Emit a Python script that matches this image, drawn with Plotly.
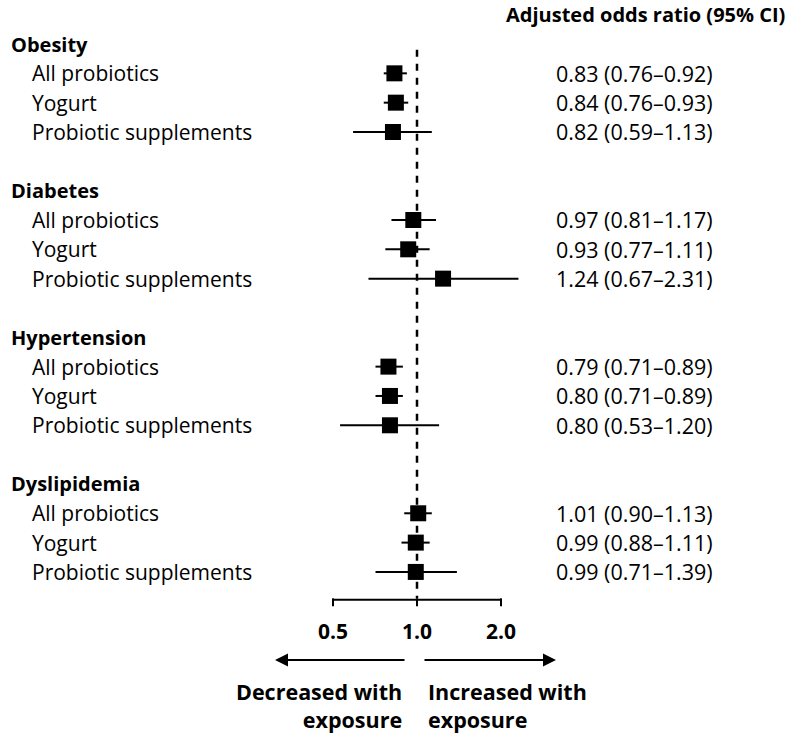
import math
import plotly.graph_objects as go

groups = ["Obesity", "Diabetes", "Hypertension", "Dyslipidemia"]
exposures = ["All probiotics", "Yogurt", "Probiotic supplements"]
odds = [0.83, 0.84, 0.82, 0.97, 0.93, 1.24, 0.79, 0.80, 0.80, 1.01, 0.99, 0.99]
lower = [0.76, 0.76, 0.59, 0.81, 0.77, 0.67, 0.71, 0.71, 0.53, 0.90, 0.88, 0.71]
upper = [0.92, 0.93, 1.13, 1.17, 1.11, 2.31, 0.89, 0.89, 1.20, 1.13, 1.11, 1.39]
tick_vals = [0.5, 1.0, 2.0]
tick_text = ["0.5", "1.0", "2.0"]

W, H = 794, 737
FONT = "Open Sans"

# row positions
rows_head, rows_item = [], []
for g in range(len(groups)):
    base = g * 5
    rows_head.append(base)
    for k in range(len(exposures)):
        rows_item.append(base + 1 + k)

fig = go.Figure()

# reference dashed line at 1.0
fig.add_trace(go.Scatter(x=[1.0, 1.0], y=[0.2, 18.9], mode="lines",
                         line=dict(color="black", width=2.5, dash="7px,7px"),
                         hoverinfo="skip", showlegend=False))

# CI lines + squares
fig.add_trace(go.Scatter(
    x=odds, y=rows_item, mode="markers",
    marker=dict(symbol="square", size=16, color="black"),
    error_x=dict(type="data", symmetric=False,
                 array=[u - o for u, o in zip(upper, odds)],
                 arrayminus=[o - l for o, l in zip(odds, lower)],
                 color="black", thickness=2, width=0),
    showlegend=False))

# bottom axis line and ticks
fig.add_trace(go.Scatter(x=[tick_vals[0], tick_vals[-1]], y=[18.95, 18.95], mode="lines",
                         line=dict(color="black", width=2), showlegend=False, hoverinfo="skip"))
for tv in tick_vals:
    fig.add_trace(go.Scatter(x=[tv, tv], y=[18.9, 19.17], mode="lines",
                             line=dict(color="black", width=2), showlegend=False, hoverinfo="skip"))

annotations = []
for tv, tt in zip(tick_vals, tick_text):
    annotations.append(dict(x=math.log10(tv), y=20.0, xref="x", yref="y", text="<b>%s</b>" % tt,
                            showarrow=False, xanchor="center", yanchor="middle",
                            font=dict(family=FONT, size=21, color="black")))

# labels
for g, grp in enumerate(groups):
    annotations.append(dict(x=9 / W, y=rows_head[g], xref="paper", yref="y", text="<b>%s</b>" % grp,
                            showarrow=False, xanchor="left", yanchor="middle",
                            font=dict(family=FONT, size=20, color="black")))
    for k, ex in enumerate(exposures):
        i = g * 3 + k
        annotations.append(dict(x=30 / W, y=rows_item[i], xref="paper", yref="y", text=ex,
                                showarrow=False, xanchor="left", yanchor="middle",
                                font=dict(family=FONT, size=21, color="black")))
        annotations.append(dict(x=554 / W, y=rows_item[i], xref="paper", yref="y",
                                text="%.2f (%.2f\u2013%.2f)" % (odds[i], lower[i], upper[i]),
                                showarrow=False, xanchor="left", yanchor="middle",
                                font=dict(family=FONT, size=21.5, color="black")))

annotations.append(dict(x=787 / W, y=-1.02, xref="paper", yref="y",
                        text="<b>Adjusted odds ratio (95% CI)</b>",
                        showarrow=False, xanchor="right", yanchor="middle",
                        font=dict(family=FONT, size=20, color="black")))

# arrows
annotations.append(dict(x=275 / W, y=21.0, xref="paper", yref="y", ax=131, ay=0,
                        showarrow=True, arrowhead=2, arrowsize=1.3, arrowwidth=2, arrowcolor="black",
                        text=""))
annotations.append(dict(x=556 / W, y=21.0, xref="paper", yref="y", ax=-133, ay=0,
                        showarrow=True, arrowhead=2, arrowsize=1.3, arrowwidth=2, arrowcolor="black",
                        text=""))
annotations.append(dict(x=404 / W, y=22.55, xref="paper", yref="y",
                        text="<b>Decreased with<br>exposure</b>", align="right",
                        showarrow=False, xanchor="right", yanchor="middle",
                        font=dict(family=FONT, size=21.5, color="black")))
annotations.append(dict(x=426 / W, y=22.55, xref="paper", yref="y",
                        text="<b>Increased with<br>exposure</b>", align="left",
                        showarrow=False, xanchor="left", yanchor="middle",
                        font=dict(family=FONT, size=21.5, color="black")))

px_per_dec = 279.0
r0 = -417.0 / px_per_dec
r1 = r0 + W / px_per_dec
row_px = 29.33
y_top = -44.0 / row_px
y_bot = (H - 44.0) / row_px

fig.update_layout(
    width=W, height=H, margin=dict(l=0, r=0, t=0, b=0),
    paper_bgcolor="white", plot_bgcolor="white",
    xaxis=dict(type="log", range=[r0, r1], visible=False, fixedrange=True),
    yaxis=dict(range=[y_bot, y_top], visible=False, fixedrange=True),
    annotations=annotations, showlegend=False,
)

fig.write_html("out.html", config={"displayModeBar": False},
               post_script="document.body.style.margin='0';")
